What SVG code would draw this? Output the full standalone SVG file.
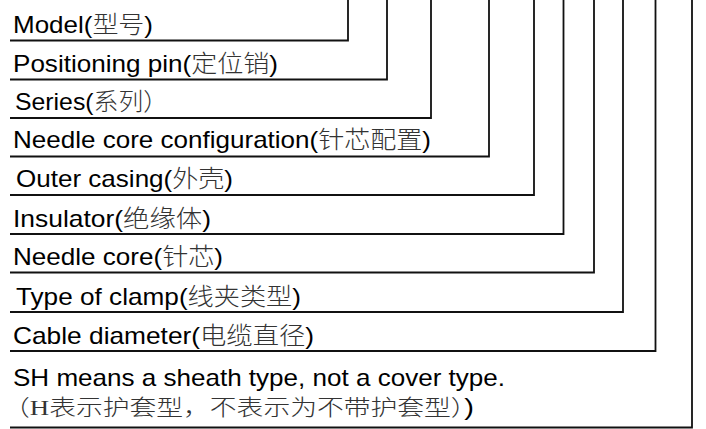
<svg xmlns="http://www.w3.org/2000/svg" width="706" height="429" viewBox="0 0 706 429">
<style>
  text { font-family: "Liberation Sans", "Noto Sans CJK SC", sans-serif; font-size: 24px; fill: #000; }
  .cjk { font-family: "Noto Sans CJK SC", sans-serif; font-weight: 300; fill: #333; }
  .note2 { font-family: "Liberation Serif", "Noto Sans CJK SC", serif; font-size: 22px; }
  .ln { fill: none; stroke: #111; stroke-width: 1.8; }
</style>
<rect width="706" height="429" fill="#fff"/>
<g id="connectors">
  <polyline class="ln" points="10,40.5 348,40.5 348,0"/>
  <polyline class="ln" points="10,79.5 387,79.5 387,0"/>
  <polyline class="ln" points="10,118 431,118 431,0"/>
  <polyline class="ln" points="10,156.5 489,156.5 489,0"/>
  <polyline class="ln" points="10,195 534,195 534,0"/>
  <polyline class="ln" points="10,234 563.5,234 563.5,0"/>
  <polyline class="ln" points="10,272.5 594,272.5 594,0"/>
  <polyline class="ln" points="10,312 623,312 623,0"/>
  <polyline class="ln" points="10,351 655.5,351 655.5,0"/>
  <polyline class="ln" points="10,427.5 692,427.5 692,0"/>
</g>
<g id="model"><text x="13" y="33" textLength="140" lengthAdjust="spacingAndGlyphs">Model(<tspan class="cjk">型号</tspan>)</text></g>
<g id="positioning-pin"><text x="13" y="72" textLength="265" lengthAdjust="spacingAndGlyphs">Positioning pin(<tspan class="cjk">定位销</tspan>)</text></g>
<g id="series"><text x="15" y="110" textLength="153" lengthAdjust="spacingAndGlyphs">Series(<tspan class="cjk">系列）</tspan></text></g>
<g id="needle-core-configuration"><text x="13" y="148" textLength="418" lengthAdjust="spacingAndGlyphs">Needle core configuration(<tspan class="cjk">针芯配置</tspan>)</text></g>
<g id="outer-casing"><text x="16" y="187" textLength="217" lengthAdjust="spacingAndGlyphs">Outer casing(<tspan class="cjk">外壳</tspan>)</text></g>
<g id="insulator"><text x="13" y="227" textLength="198" lengthAdjust="spacingAndGlyphs">Insulator(<tspan class="cjk">绝缘体</tspan>)</text></g>
<g id="needle-core"><text x="13" y="265" textLength="210" lengthAdjust="spacingAndGlyphs">Needle core(<tspan class="cjk">针芯</tspan>)</text></g>
<g id="type-of-clamp"><text x="16" y="305" textLength="285" lengthAdjust="spacingAndGlyphs">Type of clamp(<tspan class="cjk">线夹类型</tspan>)</text></g>
<g id="cable-diameter"><text x="13" y="344" textLength="301" lengthAdjust="spacingAndGlyphs">Cable diameter(<tspan class="cjk">电缆直径</tspan>)</text></g>
<g id="sheath-note">
  <text x="13" y="386" textLength="492" lengthAdjust="spacingAndGlyphs">SH means a sheath type, not a cover type.</text>
  <text class="note2" x="3" y="415" textLength="471" lengthAdjust="spacingAndGlyphs"><tspan class="cjk">（</tspan><tspan fill="#333">H</tspan><tspan class="cjk">表示护套型，不表示为不带护套型）</tspan><tspan font-family="Liberation Sans" font-size="24">)</tspan></text>
</g>
</svg>
